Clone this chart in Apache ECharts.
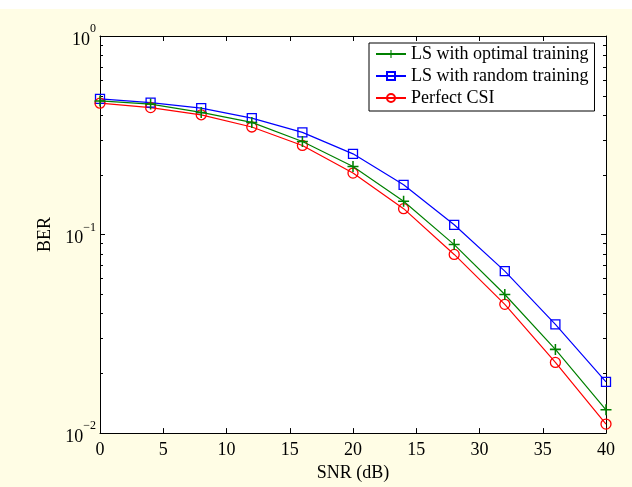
<!DOCTYPE html>
<html>
<head>
<meta charset="utf-8">
<script src="https://cdn.jsdelivr.net/npm/echarts@6/dist/echarts.min.js"></script>
<style>
html,body{margin:0;padding:0;background:#fffde5;}
#c{width:632px;height:487px;background:linear-gradient(to bottom,#ffffff 0px,#ffffff 9px,#fffde5 9px,#fffde5 100%);}
</style>
</head>
<body>
<div id="c"></div>
<script>
const snr = [0, 4, 8, 12, 16, 20, 24, 28, 32, 36, 40];
const berOptimal = [0.471, 0.454, 0.412, 0.367, 0.294, 0.220, 0.147, 0.089, 0.0499, 0.0264, 0.0131];
const berRandom = [0.482, 0.462, 0.433, 0.386, 0.327, 0.255, 0.178, 0.112, 0.0654, 0.0353, 0.0181];
const berPerfect = [0.459, 0.436, 0.401, 0.348, 0.281, 0.204, 0.135, 0.0794, 0.0445, 0.0227, 0.0111];
const xTickLabels = ['0', '5', '10', '15', '20', '15', '30', '35', '40'];
const yMinorTicks = [0.02, 0.03, 0.04, 0.05, 0.06, 0.07, 0.08, 0.09, 0.2, 0.3, 0.4, 0.5, 0.6, 0.7, 0.8, 0.9];
const seriesNames = ['LS with optimal training', 'LS with random training', 'Perfect CSI'];

const FONT = '"Liberation Serif", "Times New Roman", serif';
const chart = echarts.init(document.getElementById('c'), null, {renderer: 'canvas'});
const plusPath = 'path://M4.3,0h1.4v4.3h4.3v1.4h-4.3v4.3h-1.4v-4.3h-4.3v-1.4h4.3z';

function pairs(ys) { return snr.map((x, i) => [x, ys[i]]); }

const yLabelFmt = v => {
  const e = Math.round(Math.log10(v));
  return '{b|10}{s|' + (e < 0 ? '\u2212' + (-e) : String(e)) + '}';
};
const yRich = {
  b: {fontFamily: FONT, fontSize: 18, color: '#000', lineHeight: 26, verticalAlign: 'bottom'},
  s: {fontFamily: FONT, fontSize: 12, color: '#000', lineHeight: 26, verticalAlign: 'top'}
};

const axisLineStyle = {show: true, lineStyle: {color: '#000', width: 1}};

chart.setOption({
  backgroundColor: 'transparent',
  animation: false,
  grid: {left: 100, right: 26, top: 36, bottom: 53, show: true, backgroundColor: '#fff', borderWidth: 0, containLabel: false},
  legend: {
    orient: 'vertical',
    left: 369,
    top: 43,
    padding: [2, 6, 4, 6],
    itemWidth: 30,
    itemHeight: 10,
    itemGap: 4,
    backgroundColor: '#fff',
    borderColor: '#000',
    borderWidth: 1,
    textStyle: {fontFamily: FONT, fontSize: 18, color: '#000'},
    data: seriesNames
  },
  xAxis: [
    {
      type: 'value', min: 0, max: 40, interval: 5, position: 'bottom',
      name: 'SNR (dB)', nameLocation: 'middle', nameGap: 30,
      nameTextStyle: {fontFamily: FONT, fontSize: 18, color: '#000'},
      axisLine: axisLineStyle,
      axisTick: {show: true, inside: true, length: 5, lineStyle: {color: '#000'}},
      axisLabel: {fontFamily: FONT, fontSize: 18, color: '#000', margin: 8,
        formatter: v => xTickLabels[Math.round(v / 5)]},
      splitLine: {show: false}
    },
    {
      type: 'value', min: 0, max: 40, interval: 5, position: 'top',
      axisLine: axisLineStyle,
      axisTick: {show: true, inside: true, length: 5, lineStyle: {color: '#000'}},
      axisLabel: {show: false},
      splitLine: {show: false}
    }
  ],
  yAxis: [
    {
      type: 'log', logBase: 10, min: 0.01, max: 1, position: 'left',
      name: 'BER', nameLocation: 'middle', nameGap: 45, nameRotate: 90,
      nameTextStyle: {fontFamily: FONT, fontSize: 18, color: '#000'},
      axisLine: axisLineStyle,
      axisTick: {show: true, inside: true, length: 5, lineStyle: {color: '#000'}},
      axisLabel: {formatter: yLabelFmt, rich: yRich, margin: 4},
      splitLine: {show: false}
    },
    {
      type: 'log', logBase: 10, min: 0.01, max: 1, position: 'left',
      axisLine: {show: false},
      axisTick: {show: true, inside: true, length: 3, customValues: yMinorTicks, lineStyle: {color: '#000'}},
      axisLabel: {show: false},
      splitLine: {show: false}
    },
    {
      type: 'log', logBase: 10, min: 0.01, max: 1, position: 'right',
      axisLine: axisLineStyle,
      axisTick: {show: true, inside: true, length: 5, lineStyle: {color: '#000'}},
      axisLabel: {show: false},
      splitLine: {show: false}
    },
    {
      type: 'log', logBase: 10, min: 0.01, max: 1, position: 'right',
      axisLine: {show: false},
      axisTick: {show: true, inside: true, length: 3, customValues: yMinorTicks, lineStyle: {color: '#000'}},
      axisLabel: {show: false},
      splitLine: {show: false}
    }
  ],
  series: [
    {
      name: seriesNames[0], type: 'line', data: pairs(berOptimal),
      symbol: plusPath, symbolSize: 11, showAllSymbol: true,
      lineStyle: {color: '#008000', width: 1.2},
      itemStyle: {color: '#008000', borderWidth: 0},
      z: 3
    },
    {
      name: seriesNames[1], type: 'line', data: pairs(berRandom),
      symbol: 'rect', symbolSize: 9, showAllSymbol: true,
      lineStyle: {color: '#0000ff', width: 1.2},
      itemStyle: {color: 'rgba(255,255,255,0)', borderColor: '#0000ff', borderWidth: 1.3},
      z: 2
    },
    {
      name: seriesNames[2], type: 'line', data: pairs(berPerfect),
      symbol: 'circle', symbolSize: 10, showAllSymbol: true,
      lineStyle: {color: '#ff0000', width: 1.2},
      itemStyle: {color: 'rgba(255,255,255,0)', borderColor: '#ff0000', borderWidth: 1.3},
      z: 2
    }
  ]
});
</script>
</body>
</html>
